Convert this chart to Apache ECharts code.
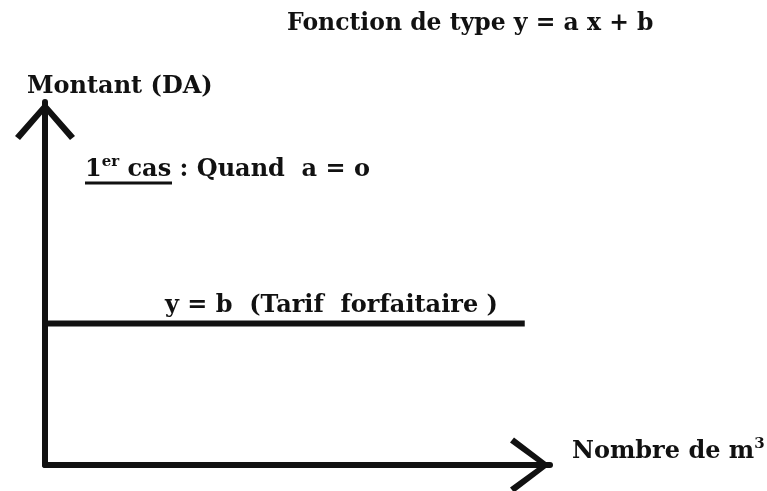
<!DOCTYPE html>
<html>
<head>
<meta charset="utf-8">
<title>Fonction de type y = a x + b</title>
<script src="https://cdn.jsdelivr.net/npm/echarts@6/dist/echarts.min.js"></script>
<style>
  html, body { margin: 0; padding: 0; background: #fff; }
  #main { width: 767px; height: 491px; }
</style>
</head>
<body>
<div id="main"></div>
<script>
  // donnees : droite y = b (a = 0)
  var xValues = [0, 95];
  var yValues = [39, 39];
  var axisRange = [0, 100];

  var ink = '#111';
  var serif = 'DejaVu Serif';
  // fleches ouvertes (chevrons) pour le bout des axes
  var chevronY = 'path://M30,0 L60,34 L55,38 L30,9 L5,38 L0,34 Z';
  var chevronX = 'path://M27.5,0 L55,36 L50,40 L27.5,9 L5,40 L0,36 Z';

  var lineData = xValues.map(function (x, i) { return [x, yValues[i]]; });

  // exposant (1er, m3)
  var sup = { fontSize: 15, fontWeight: 'bold', fontFamily: serif, padding: [0, 0, 14, 0], fill: ink };

  var chart = echarts.init(document.getElementById('main'));
  var option = {
    backgroundColor: '#fff',
    animation: false,
    title: {
      text: 'Fonction de type y = a x + b',
      left: 282,
      top: 7,
      textStyle: { fontFamily: serif, fontWeight: 'bold', fontSize: 23.5, color: ink }
    },
    grid: { left: 45, right: 217, top: 102, bottom: 26, containLabel: false },
    xAxis: {
      type: 'value',
      min: axisRange[0],
      max: axisRange[1],
      axisLine: {
        onZero: false,
        symbol: ['none', chevronX],
        symbolSize: [55, 40],
        symbolOffset: [0, -20],
        lineStyle: { color: ink, width: 6 }
      },
      axisTick: { show: false },
      axisLabel: { show: false },
      splitLine: { show: false }
    },
    yAxis: {
      type: 'value',
      min: axisRange[0],
      max: axisRange[1],
      axisLine: {
        show: true,
        onZero: false,
        symbol: ['none', chevronY],
        symbolSize: [60, 38],
        symbolOffset: [0, -19],
        lineStyle: { color: ink, width: 6 }
      },
      axisTick: { show: false },
      axisLabel: { show: false },
      splitLine: { show: false }
    },
    graphic: [
      {
        type: 'text', left: 27, top: 75,
        style: { text: 'Montant (DA)', font: 'bold 24px "DejaVu Serif"', fill: ink }
      },
      {
        type: 'text', left: 572, top: 437,
        style: {
          text: 'Nombre de m{s|3}',
          font: 'bold 24px "DejaVu Serif"', fill: ink,
          rich: { s: sup }
        }
      },
      {
        type: 'text', left: 85, top: 155,
        style: {
          text: '1{s|er} cas : Quand  a = o',
          font: 'bold 24px "DejaVu Serif"', fill: ink,
          rich: { s: sup }
        }
      },
      {
        type: 'line',
        shape: { x1: 85, y1: 183, x2: 172, y2: 183 },
        style: { stroke: ink, lineWidth: 3 }
      },
      {
        type: 'text', left: 165, top: 294,
        style: { text: 'y = b  (Tarif  forfaitaire )', font: 'bold 24px "DejaVu Serif"', fill: ink }
      }
    ],
    series: [
      {
        type: 'line',
        data: lineData,
        symbol: 'none',
        lineStyle: { color: ink, width: 6 }
      }
    ]
  };
  chart.setOption(option);
</script>
</body>
</html>
